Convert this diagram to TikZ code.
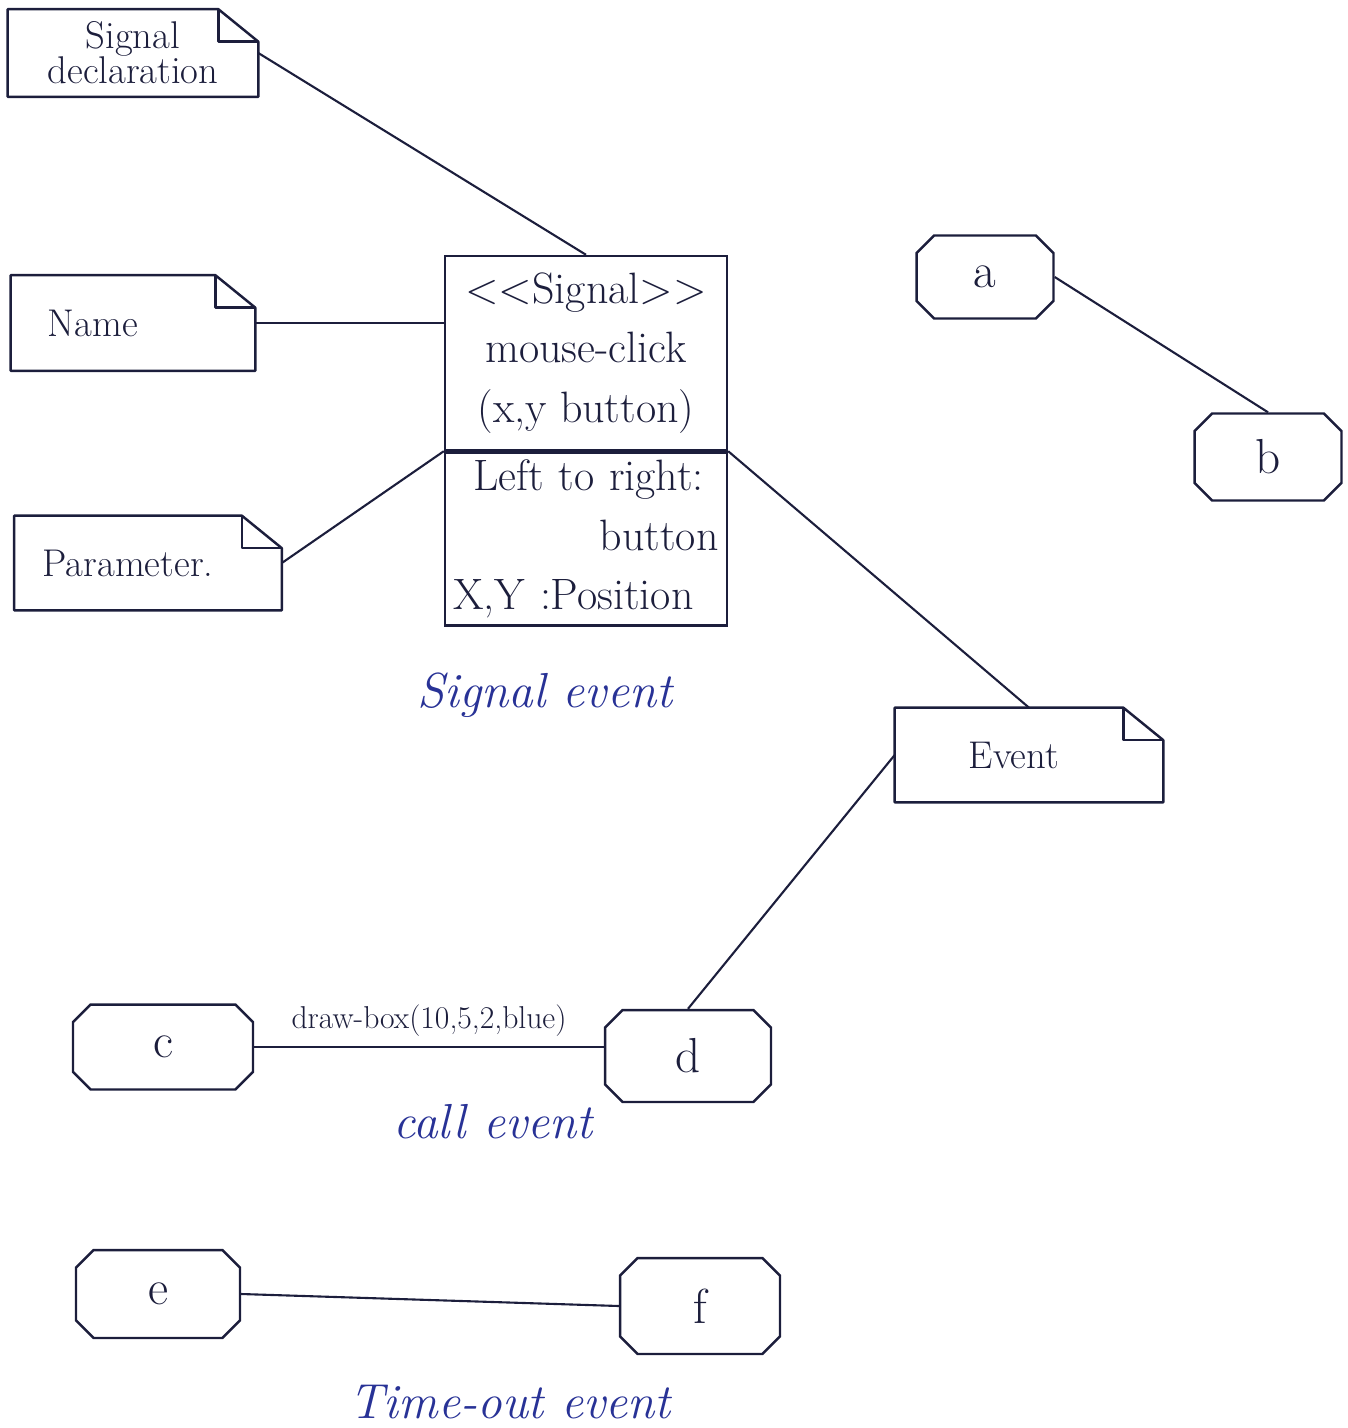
\documentclass[tikz,border=0pt]{standalone}
\usepackage{xcolor}
\usepackage{tikz}
\usetikzlibrary{shapes.misc,positioning,calc}

\definecolor{ink}{RGB}{28,30,60}
\definecolor{penblue}{RGB}{40,50,150}

% outline of a UML note with a folded corner
\newcommand{\notebox}[1]{%
  \draw[outline] (#1.south west) -- (#1.north west) -- ([xshift=-0.8cm]#1.north east)
    -- ([yshift=-0.65cm]#1.north east) -- (#1.south east) -- cycle;
  \draw[outline] ([xshift=-0.8cm]#1.north east) |- ([yshift=-0.65cm]#1.north east);
}

\begin{document}
\begin{tikzpicture}[x=0.02cm, y=-0.02cm,
    outline/.style={draw=ink, line width=1.4pt, line join=round},
    note/.style n args={2}{rectangle, minimum width=#1, minimum height=#2, inner sep=4pt, align=center, text=ink, font=\fontsize{22}{24}\selectfont},
    sigpart/.style={rectangle, draw=ink, line width=1.4pt, minimum width=5.64cm, inner sep=4pt, text=ink, font=\fontsize{25}{34}\selectfont},
    obj/.style n args={2}{chamfered rectangle, chamfered rectangle xsep=5pt, chamfered rectangle ysep=5pt, draw=ink, line width=1.4pt, minimum width=#1, minimum height=#2, text=ink, font=\fontsize{28}{30}\selectfont},
    caption/.style={text=penblue, font=\fontsize{28}{30}\selectfont\itshape},
    link/.style={draw=ink, line width=1.2pt}]

\useasboundingbox (0,0) rectangle (1348,1428);

% Notes on the left and right
\node[note={5cm}{1.74cm}] (sigdecl) at (133,53) {Signal\\[-4pt]declaration};
\node[note={4.88cm}{1.9cm}] (name) at (133,323) {\hspace*{-1.6cm}Name};
\node[note={5.34cm}{1.88cm}] (param) at (148,563) {\hspace*{-0.8cm}Parameter.};
\node[note={5.36cm}{1.88cm}] (event) at (1029,755) {\hspace*{-0.6cm}Event};
\notebox{sigdecl}
\notebox{name}
\notebox{param}
\notebox{event}

% Signal class (two compartments)
\node[sigpart, minimum height=3.88cm, align=center] (sigtop) at (586,353) {%
    \textless\kern0pt\textless Signal\textgreater\kern0pt\textgreater\\
    mouse-click\\
    (x,y button)};
\node[sigpart, minimum height=3.36cm, below=0pt of sigtop, text width=5.3cm, align=left] (sigbot) {%
    \hspace*{0.4cm}Left to right:\\
    \hspace*{\fill}button\\
    X,Y :Position};

% Object boxes
\node[obj={2.74cm}{1.66cm}] (a) at (985,277) {a};
\node[obj={2.94cm}{1.74cm}] (b) at (1268,457) {b};
\node[obj={3.6cm}{1.7cm}] (c) at (163,1047) {c};
\node[obj={3.32cm}{1.84cm}] (d) at (688,1056) {d};
\node[obj={3.28cm}{1.76cm}] (e) at (158,1294) {e};
\node[obj={3.2cm}{1.92cm}] (f) at (700,1306) {f};

% Connectors
\draw[link] (sigdecl.east) -- (sigtop.north);
\draw[link] (name.east) -- (name.east -| sigtop.west);
\draw[link] (param.east) -- (sigbot.north west);
\draw[link] (sigbot.north east) -- (event.north);
\draw[link] (event.west) -- (d.north);
\draw[link] (a.east) -- (b.north);
\draw[link] (c.east) -- node[above=2pt, text=ink, font=\fontsize{18}{20}\selectfont] (callmsg) {draw-box(10,5,2,blue)} (c.east -| d.west);
\draw[link] (e.east) -- (f.west);

% Captions
\node[caption] (sigcap) at (545,695) {Signal event};
\node[caption] (callcap) at (493,1122) {call event};
\node[caption, anchor=base] (timecap) at (510,1418) {Time-out event};

\end{tikzpicture}
\end{document}
